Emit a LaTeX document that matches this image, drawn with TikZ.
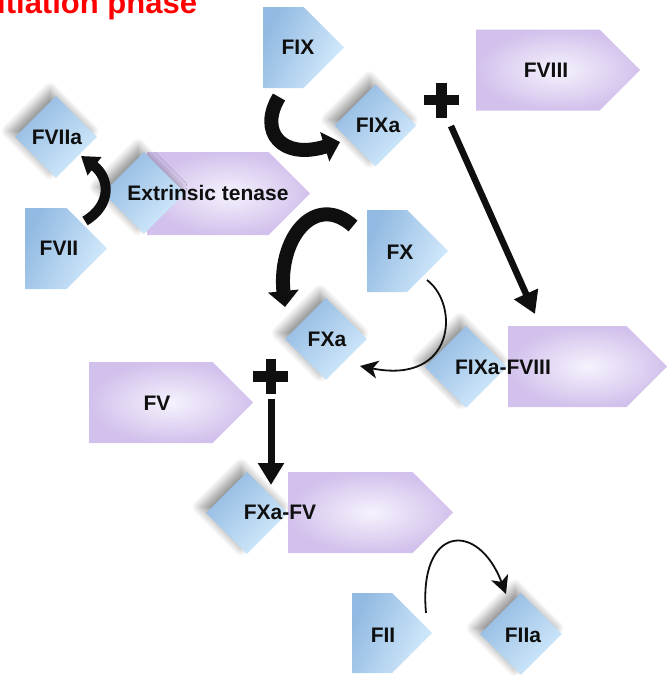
\documentclass[tikz,border=0pt]{standalone}
\usepackage{fontspec}
\setmainfont{Liberation Sans}
\usetikzlibrary{shapes.geometric,shapes.symbols,arrows.meta,shadows.blur}
\definecolor{blueD}{RGB}{146,186,226}
\definecolor{blueL}{RGB}{212,235,252}
\definecolor{purp}{RGB}{210,193,236}
\definecolor{purpL}{RGB}{246,242,253}
\definecolor{titlered}{RGB}{255,0,0}
\definecolor{ink}{RGB}{15,15,15}
\tikzset{
  bpent/.style={signal, signal to=east, signal pointer angle=90, anchor=west,
    minimum width=81pt, minimum height=81pt, inner sep=0pt,
    top color=blueD, bottom color=blueL, shading angle=65},
  ppent/.style={signal, signal to=east, signal pointer angle=90, anchor=west,
    minimum width=164pt, minimum height=81pt, inner sep=0pt,
    inner color=purpL, outer color=purp},
  diam/.style={diamond, aspect=1, minimum size=82pt, inner sep=0pt,
    top color=blueD, bottom color=blueL, shading angle=45,
    blur shadow={shadow xshift=-6pt, shadow yshift=6pt, shadow opacity=40, shadow blur radius=8pt, shadow blur steps=12}},
  lbl/.style={font=\fontsize{21}{24}\selectfont\bfseries, text=ink, inner sep=0pt},
  ttl/.style={font=\fontsize{31}{36}\selectfont\bfseries, text=titlered, inner sep=0pt, anchor=base west},
  bigarrow/.style={draw=ink, line width=14pt, -{Triangle[length=16pt,width=30pt]}},
  medarrow/.style={draw=ink, line width=6.5pt, -{Triangle[length=22pt,width=25pt]}},
  thinarrow/.style={draw=ink, line width=1.8pt, -{Stealth[length=18pt,width=18pt,inset=5pt]}},
}
\begin{document}
\begin{tikzpicture}[x=1pt,y=-1pt]
\useasboundingbox (0,0) rectangle (668,675);

\node[ttl] (title) at (-3,13) {itiation phase};

% top: FIX, FIXa, FVIII
\node[bpent] (fix) at (263,47.5) {};
\node[lbl] (fixl) at (298,47) {FIX};
\node[diam] (fixa) at (375.5,125.5) {};
\node[lbl] (fixal) at (378,125) {FIXa};
\node[ppent] (fviii) at (476,70) {};
\node[lbl] (fviiil) at (546,70) {FVIII};

% left: FVIIa, FVII, extrinsic tenase
\node[diam] (fviia) at (56,137) {};
\node[lbl] (fviial) at (57,137) {FVIIa};
\node[bpent, minimum width=82pt] (fvii) at (25,248.5) {};
\node[lbl] (fviil) at (59,248) {FVII};
\node[ppent, minimum width=163pt, minimum height=83pt] (etp) at (147,193.5) {};
\node[diam] (etd) at (144,193) {};
\node[lbl] (etl) at (208,193) {Extrinsic tenase};

% middle: FX, FXa, FIXa-FVIII
\node[bpent, minimum height=82pt] (fx) at (367,251) {};
\node[lbl] (fxl) at (400,252) {FX};
\node[diam] (fxa) at (326,339) {};
\node[lbl] (fxal) at (327,339) {FXa};
\node[diam] (fixafviiid) at (466,367) {};
\node[ppent, minimum width=159pt] (fixafviiip) at (508,366.5) {};
\node[lbl] (fixafviiil) at (503,367) {FIXa-FVIII};

% lower: FV, FXa-FV
\node[ppent] (fv) at (89,402.5) {};
\node[lbl] (fvl) at (157,403) {FV};
\node[diam] (fxafvd) at (247,513) {};
\node[ppent, minimum width=165pt] (fxafvp) at (288,512.5) {};
\node[lbl] (fxafvl) at (280,512) {FXa-FV};

% bottom: FII, FIIa
\node[bpent, minimum width=80pt, minimum height=80pt] (fii) at (352,633) {};
\node[lbl] (fiil) at (383,635) {FII};
\node[diam] (fiia) at (521,634) {};
\node[lbl] (fiial) at (523,635) {FIIa};

% plus signs
\coordinate (plus1) at (441,100);
\fill[ink] ([shift={(-17.5,-5)}]plus1) rectangle ([shift={(17.5,5)}]plus1);
\fill[ink] ([shift={(-5.5,-17.5)}]plus1) rectangle ([shift={(5.5,17.5)}]plus1);
\coordinate (plus2) at (270.5,376.5);
\fill[ink] ([shift={(-17.5,-5.5)}]plus2) rectangle ([shift={(17.5,5.5)}]plus2);
\fill[ink] ([shift={(-5,-17.5)}]plus2) rectangle ([shift={(5,17.5)}]plus2);

% arrow end points
\coordinate (a1s) at (279,97);
\coordinate (a1e) at (340,142);
\coordinate (a2s) at (85,221);
\coordinate (a2e) at (81,156);
\coordinate (a3s) at (353,226);
\coordinate (a3e) at (285,307);
\coordinate (a4s) at (451,126);
\coordinate (a4e) at (535,314);
\coordinate (a5s) at (427,280);
\coordinate (a5e) at (360,366);
\coordinate (a6s) at (271,399);
\coordinate (a6e) at (271,485);
\coordinate (a7s) at (426,613);
\coordinate (a7e) at (506,594);

% arrows
\draw[bigarrow] (a1s) .. controls (258,132) and (282,160) .. (a1e);
\draw[bigarrow, line width=10pt, -{Triangle[length=17pt,width=22pt]}] (a2s) .. controls (112,205) and (110,178) .. (a2e);
\draw[bigarrow] (a3s) .. controls (315,192) and (278,238) .. (a3e);
\draw[medarrow] (a4s) -- (a4e);
\draw[thinarrow] (a5s) .. controls (460,305) and (455,385) .. (a5e);
\draw[medarrow, line width=7pt] (a6s) -- (a6e);
\draw[thinarrow] (a7s) .. controls (418,525) and (478,520) .. (a7e);
\end{tikzpicture}
\end{document}
